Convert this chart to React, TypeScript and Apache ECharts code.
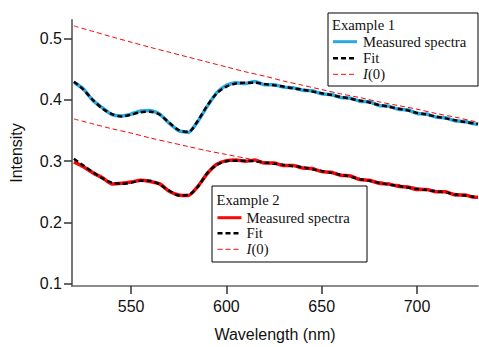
import React, { useEffect, useRef } from "react";
import * as echarts from "echarts";

const wavelengths = [520, 525, 530, 535, 540, 545, 550, 555, 560, 565, 570, 575, 580, 585, 590, 595, 600, 605, 610, 615, 620, 625, 630, 635, 640, 645, 650, 655, 660, 665, 670, 675, 680, 685, 690, 695, 700, 705, 710, 715, 720, 725, 730, 732];

const measured1 = [0.429, 0.418, 0.399, 0.387, 0.376, 0.374, 0.377, 0.382, 0.383, 0.377, 0.362, 0.350, 0.347, 0.365, 0.390, 0.412, 0.424, 0.428, 0.427, 0.430, 0.425, 0.425, 0.421, 0.420, 0.416, 0.415, 0.410, 0.409, 0.404, 0.403, 0.398, 0.397, 0.391, 0.390, 0.385, 0.384, 0.378, 0.377, 0.372, 0.371, 0.366, 0.365, 0.361, 0.360];
const fit1 = [0.430, 0.417, 0.400, 0.386, 0.377, 0.373, 0.376, 0.380, 0.381, 0.376, 0.363, 0.351, 0.348, 0.366, 0.391, 0.411, 0.422, 0.427, 0.428, 0.428, 0.426, 0.424, 0.422, 0.419, 0.417, 0.414, 0.411, 0.408, 0.405, 0.402, 0.399, 0.396, 0.392, 0.389, 0.386, 0.383, 0.379, 0.376, 0.373, 0.370, 0.367, 0.364, 0.362, 0.361];

const measured2 = [0.299, 0.291, 0.281, 0.273, 0.263, 0.264, 0.266, 0.269, 0.267, 0.263, 0.251, 0.245, 0.244, 0.259, 0.280, 0.295, 0.301, 0.302, 0.300, 0.302, 0.297, 0.297, 0.293, 0.293, 0.289, 0.288, 0.283, 0.282, 0.277, 0.276, 0.270, 0.269, 0.264, 0.263, 0.259, 0.258, 0.254, 0.254, 0.250, 0.250, 0.245, 0.245, 0.241, 0.241];
const fit2 = [0.304, 0.293, 0.282, 0.272, 0.265, 0.263, 0.265, 0.268, 0.268, 0.262, 0.252, 0.244, 0.245, 0.258, 0.281, 0.294, 0.300, 0.301, 0.301, 0.300, 0.298, 0.296, 0.294, 0.292, 0.290, 0.287, 0.284, 0.281, 0.278, 0.275, 0.271, 0.268, 0.265, 0.262, 0.260, 0.257, 0.255, 0.253, 0.251, 0.249, 0.246, 0.244, 0.242, 0.241];

const i0Wavelengths = [520, 530, 540, 550, 560, 570, 580, 590, 600, 610, 620, 630, 640, 650, 660, 670, 680, 690, 700, 710, 720, 730, 732];
const i0First = [0.521, 0.512, 0.503, 0.4945, 0.486, 0.478, 0.470, 0.462, 0.454, 0.446, 0.439, 0.431, 0.424, 0.417, 0.410, 0.404, 0.397, 0.391, 0.385, 0.378, 0.372, 0.365, 0.364];
const i0Second = [0.369, 0.361, 0.353, 0.346, 0.338, 0.331, 0.324, 0.317, 0.311, 0.305, 0.299, 0.294, 0.289, 0.283, 0.278, 0.272, 0.267, 0.262, 0.257, 0.252, 0.247, 0.242, 0.2415];

const xTicks = [550, 600, 650, 700];
const yTicks = [0.1, 0.2, 0.3, 0.4, 0.5];

const legendTitles = ["Example 1", "Example 2"];
const legendItems = ["Measured spectra", "Fit", "{i|I}(0)"];

const BLUE = "#2aa8e0";
const RED = "#f50a0a";
const SERIF = '"Liberation Serif", "Times New Roman", serif';
const SANS = '"Liberation Sans", Arial, Helvetica, sans-serif';
const LEGEND_FS = 14.7;

function pairs(xs: number[], ys: number[]) {
  return xs.map((x, i) => [x, ys[i]]);
}

function legendBlock(x: number, y: number, w: number, h: number, title: string, measColor: string, rowYs: number[], lineX: number, textX: number, titleX: number, titleY: number) {
  const children: any[] = [
    { type: "rect", shape: { x, y, width: w, height: h }, style: { fill: "#fff", stroke: "#000", lineWidth: 1 } },
    { type: "text", x: titleX, y: titleY, style: { text: title, fontFamily: SERIF, fontSize: LEGEND_FS, fill: "#111", verticalAlign: "middle" } },
  ];
  const styles = [
    { stroke: measColor, lineWidth: 3 },
    { stroke: "#000", lineWidth: 2.5, lineDash: [5, 3] },
    { stroke: RED, lineWidth: 1, lineDash: [5, 3] },
  ];
  rowYs.forEach((ry, i) => {
    children.push({ type: "line", shape: { x1: lineX, y1: ry, x2: lineX + 24, y2: ry }, style: styles[i] });
    children.push({
      type: "text", x: textX, y: ry,
      style: {
        text: legendItems[i], fontFamily: SERIF, fontSize: LEGEND_FS, fill: "#111", verticalAlign: "middle",
        rich: { i: { fontStyle: "italic", fontFamily: SERIF, fontSize: LEGEND_FS, fill: "#111" } },
      },
    });
  });
  return { type: "group", z: 100, children };
}

export default function App() {
  const ref = useRef<HTMLDivElement>(null);
  useEffect(() => {
    if (!ref.current) return;
    const chart = echarts.init(ref.current, null, { renderer: "svg" });
    const line = (name: string, xs: number[], ys: number[], color: string, width: number, dash: any, smooth: number) => ({
      name, type: "line", data: pairs(xs, ys), showSymbol: false, smooth,
      lineStyle: { color, width, type: dash },
      emphasis: { disabled: true },
    });
    chart.setOption({
      animation: false,
      grid: { left: 72, top: 20, right: 1, bottom: 57, containLabel: false },
      xAxis: {
        type: "value", min: 519, max: 732,
        name: "Wavelength (nm)", nameLocation: "middle", nameGap: 40,
        nameTextStyle: { fontFamily: SANS, fontSize: 16, color: "#111" },
        axisLine: { lineStyle: { color: "#666", width: 1.5 } },
        axisTick: { show: true, length: 8, customValues: xTicks, lineStyle: { color: "#333", width: 1.5 } },
        axisLabel: { customValues: xTicks, margin: 12, fontFamily: SANS, fontSize: 16, color: "#111" },
        splitLine: { show: false },
      },
      yAxis: {
        type: "value", min: 0.0963, max: 0.5306,
        name: "Intensity", nameLocation: "middle", nameGap: 48, nameRotate: 90,
        nameTextStyle: { fontFamily: SANS, fontSize: 16, color: "#111" },
        axisLine: { show: true, lineStyle: { color: "#777", width: 2 } },
        axisTick: { show: true, length: 8, customValues: yTicks, lineStyle: { color: "#333", width: 1.5 } },
        axisLabel: { customValues: yTicks, margin: 10, fontFamily: SANS, fontSize: 16, color: "#111", formatter: (v: number) => v.toFixed(1) },
        splitLine: { show: false },
      },
      series: [
        line("Measured spectra 2", wavelengths, measured2, RED, 3.5, "solid", 0.2),
        line("Fit 2", wavelengths, fit2, "#000", 2.5, [5, 3], 0.3),
        line("Measured spectra 1", wavelengths, measured1, BLUE, 3.5, "solid", 0.2),
        line("Fit 1", wavelengths, fit1, "#000", 2.5, [5, 3], 0.3),
        line("I(0) 1", i0Wavelengths, i0First, RED, 1, [5, 3], 0.3),
        line("I(0) 2", i0Wavelengths, i0Second, RED, 1, [5, 3], 0.3),
      ],
      graphic: [
        legendBlock(328, 13, 150, 73, legendTitles[0], BLUE, [41.7, 58.3, 74.3], 333, 363, 332, 25),
        legendBlock(212, 186, 155, 76, legendTitles[1], RED, [217.7, 233.3, 249.3], 217.5, 246.5, 216.5, 200),
      ],
    });
    return () => chart.dispose();
  }, []);
  return <div ref={ref} style={{ position: "absolute", left: 0, top: 0, width: 479, height: 347 }} />;
}
